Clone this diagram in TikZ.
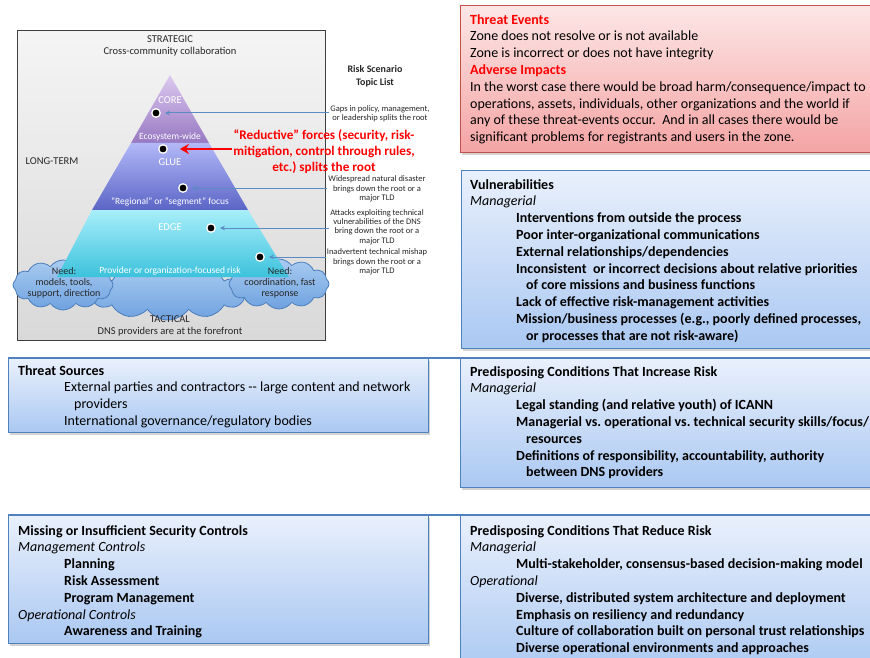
\documentclass[tikz,border=0pt]{standalone}
\usepackage{fontspec}
\setmainfont{Carlito}
\usepackage{tikz}
\usetikzlibrary{arrows.meta,shapes.symbols,shadows,positioning}
\definecolor{FrameGrey}{HTML}{3F3F3F}
\definecolor{TextGrey}{HTML}{262626}
\definecolor{LinkBlue}{HTML}{5B8AC4}
\definecolor{BoxBlue}{HTML}{4F81BD}
\definecolor{BlueTop}{HTML}{E9F0FC}
\definecolor{BlueBottom}{HTML}{AAC8F2}
\definecolor{BoxRed}{HTML}{C0504D}
\definecolor{RedTop}{HTML}{FDE6E6}
\definecolor{RedBottom}{HTML}{F4A4A4}
\definecolor{AlertRed}{HTML}{FF0000}
\definecolor{CoreTop}{HTML}{DCC9EF}
\definecolor{CoreBottom}{HTML}{9778C2}
\definecolor{GlueTop}{HTML}{B3B8F8}
\definecolor{GlueBottom}{HTML}{5B65C6}
\definecolor{EdgeTop}{HTML}{A8EEFA}
\definecolor{EdgeBottom}{HTML}{3CC2DC}
\definecolor{CloudTop}{HTML}{A9CBF0}
\definecolor{CloudBottom}{HTML}{6FA2E0}
\definecolor{CloudLine}{HTML}{4A7EBB}
\newcommand\Indent{46pt}
\newcommand\IndentMore{56pt}
\newcommand\Item[1]{\hspace*{\Indent}\textbf{#1}}
\newcommand\ItemMore[1]{\hspace*{\IndentMore}\textbf{#1}}
\tikzstyle{riskbox}=[rectangle,anchor=north west,inner sep=0pt,line width=1.2pt,
                     drop shadow={shadow xshift=1.5pt,shadow yshift=-2pt,opacity=0.35}]
\tikzstyle{bluebox}=[riskbox,draw=BoxBlue,top color=BlueTop,bottom color=BlueBottom]
\tikzstyle{redbox}=[riskbox,draw=BoxRed,top color=RedTop,bottom color=RedBottom]
\tikzstyle{boxtext}=[anchor=north west,inner sep=0pt,align=left,
                     font=\fontsize{14}{16.8}\selectfont]
\tikzstyle{framelabel}=[align=center,inner sep=0pt,text=TextGrey,
                     font=\fontsize{10.5}{11.5}\selectfont]
\tikzstyle{tierlabel}=[inner sep=0pt,text=white,font=\fontsize{10.5}{12}\selectfont]
\tikzstyle{tiernote}=[inner sep=0pt,text=white,font=\fontsize{9.5}{11}\selectfont]
\tikzstyle{scenario}=[align=center,inner sep=1pt,text=TextGrey,
                     font=\fontsize{8.5}{9.3}\selectfont]
\tikzstyle{needtext}=[align=center,inner sep=0pt,text=TextGrey,
                     font=\fontsize{10}{11.3}\selectfont]
\tikzstyle{dot}=[circle,fill=black,draw=white,line width=1.3pt,inner sep=0pt,minimum size=8.5pt]
\tikzstyle{link}=[draw=LinkBlue,line width=1pt,-{Stealth[length=5pt,width=4.5pt]},shorten >=4pt]
\tikzstyle{forcearrow}=[draw=AlertRed,line width=2.6pt,-{Stealth[length=9pt,width=10pt]},shorten >=12pt]
\tikzstyle{puff}=[cloud,cloud puffs=12,cloud puff arc=110,draw=CloudLine,
                     line width=0.8pt,top color=CloudTop,bottom color=CloudBottom]
\tikzstyle{rowline}=[draw=BoxBlue,line width=1.6pt]

\begin{document}
\frenchspacing
\begin{tikzpicture}[x=1pt,y=-1pt]
   \useasboundingbox (0,0) rectangle (870,658);
   \clip (0,0) rectangle (870,658);
   % pyramid frame
   \node[rectangle,anchor=north west,draw=FrameGrey,line width=0.9pt,top color=black!4,bottom color=black!15,
         minimum width=308pt,minimum height=310pt] (frame) at (17,30) {};
   \node[puff,aspect=2.8,minimum width=158pt,minimum height=54pt] (cloudM) at (168,293) {};
   \node[puff,aspect=2,minimum width=100pt,minimum height=50pt] (cloudL) at (63,285) {};
   \node[puff,aspect=2,minimum width=100pt,minimum height=50pt] (cloudR) at (279,284) {};
   % tiers
   \coordinate (apex) at (170,75);
   \coordinate (coreL) at (131,143);
   \coordinate (coreR) at (209,143);
   \coordinate (glueL) at (92,210);
   \coordinate (glueR) at (248,210);
   \coordinate (baseL) at (57,277);
   \coordinate (baseR) at (289,277);
   \shade[top color=CoreTop,bottom color=CoreBottom] (apex) -- (coreR) -- (coreL) -- cycle;
   \shade[top color=GlueTop,bottom color=GlueBottom] (coreL) -- (coreR) -- (glueR) -- (glueL) -- cycle;
   \shade[top color=EdgeTop,bottom color=EdgeBottom] (glueL) -- (glueR) -- (baseR) -- (baseL) -- cycle;
   \node[tierlabel] (core) at (170,100) {CORE};
   \node[tiernote] (eco) at (170,137) {Ecosystem-wide};
   \node[tierlabel] (glue) at (170,162) {GLUE};
   \node[tiernote] (regional) at (170,202) {“Regional” or “segment” focus};
   \node[tierlabel] (edge) at (170,227) {EDGE};
   \node[tiernote] (provider) at (170,271) {Provider or organization-focused risk};
   \node[framelabel] (strategic) at (170,46) {STRATEGIC\\Cross-community collaboration};
   \node[framelabel] (longterm) at (52,161) {LONG-TERM};
   \node[framelabel] (tactical) at (170,326) {TACTICAL\\DNS providers are at the forefront};
   \node[needtext] (needL) at (64,283) {Need:\\models, tools,\\support, direction};
   \node[needtext] (needR) at (280,283) {Need:\\coordination, fast\\response};
   \node[dot] (d1) at (156,113) {};
   \node[dot] (d2) at (163,149) {};
   \node[dot] (d3) at (183,188) {};
   \node[dot] (d4) at (211,228) {};
   \node[dot] (d5) at (260,257) {};
   % topic list
   \node[scenario,font=\fontsize{10}{13}\selectfont\bfseries] (topics) at (375,76) {Risk Scenario\\Topic List};
   \node[scenario] (gaps) at (380,114) {Gaps in policy, management,\\or leadership splits the root};
   \node[scenario] (disaster) at (377,189) {Widespread natural disaster\\brings down the root or a\\major TLD};
   \node[scenario] (attacks) at (377,227) {Attacks exploiting technical\\vulnerabilities of the DNS\\bring down the root or a\\major TLD};
   \node[scenario] (mishap) at (377,262) {Inadvertent technical mishap\\brings down the root or a\\major TLD};
   \node[align=center,inner sep=1pt,text=AlertRed,font=\fontsize{13.2}{16}\selectfont\bfseries]
         (reductive) at (324,152) {“Reductive” forces (security, risk-\\mitigation, control through rules,\\etc.) splits the root};
   \draw[link] (gaps.west |- d1) -- (d1);
   \draw[link] (disaster.west |- d3) -- (d3);
   \draw[link] (attacks.west |- d4) -- (d4);
   \draw[link] (mishap.west |- d5) -- (d5);
   \draw[forcearrow] (reductive.west |- d2) -- (d2);
   % boxes
   \node[redbox,minimum width=420pt,minimum height=147pt] (events) at (460,5) {};
   \node[bluebox,minimum width=420pt,minimum height=178pt] (vuln) at (461,170) {};
   \node[bluebox,minimum width=420pt,minimum height=74pt] (sources) at (8,358) {};
   \node[bluebox,minimum width=420pt,minimum height=129pt] (increase) at (460,358) {};
   \node[bluebox,minimum width=420pt,minimum height=128pt] (controls) at (8,515) {};
   \node[bluebox,minimum width=420pt,minimum height=160pt] (reduce) at (460,515) {};
   \draw[rowline] (sources.north west) -- (increase.north east);
   \draw[rowline] (controls.north west) -- (reduce.north east);
   \node[boxtext] (eventstext) at ([shift={(10,9)}]events.north west)
         {{\color{AlertRed}\bfseries Threat Events}\\
          Zone does not resolve or is not available\\
          Zone is incorrect or does not have integrity\\
          {\color{AlertRed}\bfseries Adverse Impacts}\\
          In the worst case there would be broad harm/consequence/impact to\\
          operations, assets, individuals, other organizations and the world if\\
          any of these threat-events occur.\ \ And in all cases there would be\\
          significant problems for registrants and users in the zone.};
   \node[boxtext] (vulntext) at ([shift={(9,9)}]vuln.north west)
         {\textbf{Vulnerabilities}\\
          \textit{Managerial}\\
          \Item{Interventions from outside the process}\\
          \Item{Poor inter-organizational communications}\\
          \Item{External relationships/dependencies}\\
          \Item{Inconsistent\ \ or incorrect decisions about relative priorities}\\
          \ItemMore{of core missions and business functions}\\
          \Item{Lack of effective risk-management activities}\\
          \Item{Mission/business processes (e.g., poorly defined processes,}\\
          \ItemMore{or processes that are not risk-aware)}};
   \node[boxtext] (sourcestext) at ([shift={(10,7)}]sources.north west)
         {\textbf{Threat Sources}\\
          \hspace*{\Indent}External parties and contractors -{}- large content and network\\
          \hspace*{\IndentMore}providers\\
          \hspace*{\Indent}International governance/regulatory bodies};
   \node[boxtext] (increasetext) at ([shift={(10,8)}]increase.north west)
         {\textbf{Predisposing Conditions That Increase Risk}\\
          \textit{Managerial}\\
          \Item{Legal standing (and relative youth) of ICANN}\\
          \Item{Managerial vs. operational vs. technical security skills/focus/}\\
          \ItemMore{resources}\\
          \Item{Definitions of responsibility, accountability, authority}\\
          \ItemMore{between DNS providers}};
   \node[boxtext] (controlstext) at ([shift={(10,10)}]controls.north west)
         {\textbf{Missing or Insufficient Security Controls}\\
          \textit{Management Controls}\\
          \Item{Planning}\\
          \Item{Risk Assessment}\\
          \Item{Program Management}\\
          \textit{Operational Controls}\\
          \Item{Awareness and Training}};
   \node[boxtext] (reducetext) at ([shift={(10,10)}]reduce.north west)
         {\textbf{Predisposing Conditions That Reduce Risk}\\
          \textit{Managerial}\\
          \Item{Multi-stakeholder, consensus-based decision-making model}\\
          \textit{Operational}\\
          \Item{Diverse, distributed system architecture and deployment}\\
          \Item{Emphasis on resiliency and redundancy}\\
          \Item{Culture of collaboration built on personal trust relationships}\\
          \Item{Diverse operational environments and approaches}};
\end{tikzpicture}
\end{document}
